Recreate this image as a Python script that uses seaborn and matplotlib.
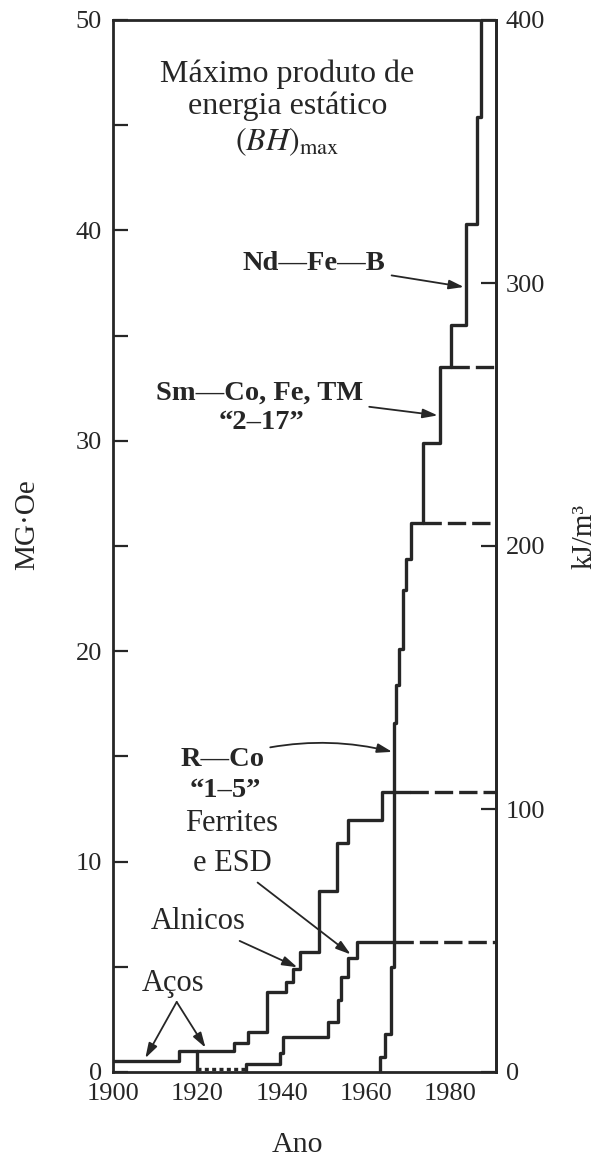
import matplotlib
matplotlib.use("Agg")
import matplotlib.pyplot as plt
import seaborn as sns

# Record (BH)max, in MG·Oe, of the permanent-magnet families by year.
# Each list pair is a staircase: the value holds from its year until the next one.
steel_alnico_year = [1900, 1915.6, 1928.7, 1931.9, 1936.4, 1941.1, 1942.7,
                     1944.3, 1948.9, 1953.2, 1955.7, 1963.7, 1970.3]
steel_alnico_bh = [0.5, 1.0, 1.4, 1.9, 3.8, 4.3, 4.9, 5.7, 8.6, 10.9, 12.0,
                   13.3, 13.3]

ferrite_year = [1931.5, 1931.5, 1939.6, 1940.4, 1951.0, 1953.3, 1954.1,
                1955.7, 1957.8, 1966.9]
ferrite_bh = [0.0, 0.4, 0.9, 1.65, 2.4, 3.4, 4.5, 5.4, 6.2, 6.2]

# early ferrite/ESD trace: riser at 1920 and the dotted baseline after it
ferrite_early_year = [1920.0, 1920.0]
ferrite_early_bh = [1.0, 0.0]
ferrite_base_year = [1920.0, 1931.5]
ferrite_base_bh = [0.12, 0.12]

# rare-earth magnets: R–Co "1–5", Sm–Co "2–17", then Nd–Fe–B
rare_earth_year = [1963.4, 1963.4, 1964.6, 1965.8, 1966.7, 1967.2, 1967.7,
                   1968.7, 1969.4, 1970.7, 1973.5, 1977.6, 1980.2, 1983.7,
                   1986.3, 1987.2]
rare_earth_bh = [0.0, 0.7, 1.8, 5.0, 16.6, 18.4, 20.1, 22.9, 24.4, 26.1,
                 29.9, 33.5, 35.5, 40.3, 45.4, 52.0]

# plateaus carried forward (dashed) to the end of the time axis
plateau_start = [1970.3, 1966.9, 1973.5, 1980.2]
plateau_bh = [13.3, 6.2, 26.1, 33.5]

year_ticks = [1900, 1920, 1940, 1960, 1980]
mgoe_ticks = [0, 10, 20, 30, 40, 50]
mgoe_minor = [5, 15, 25, 35, 45]
kj_ticks = [0, 100, 200, 300, 400]
YEAR_END = 1990.8

sns.set_theme(style="white")
plt.rcParams["font.family"] = ["Liberation Serif", "DejaVu Serif"]
plt.rcParams["mathtext.fontset"] = "stix"

INK = "#262626"
LW = 2.4

fig = plt.figure(figsize=(6.03, 11.58), dpi=100)
ax = fig.add_axes([113 / 603, 86 / 1158, 383 / 603, 1052 / 1158])


def stairs(x, y, **kw):
    sns.lineplot(x=x, y=y, ax=ax, estimator=None, sort=False,
                 drawstyle="steps-post", color=INK, linewidth=LW,
                 legend=False, **kw)


stairs(steel_alnico_year, steel_alnico_bh)
stairs(ferrite_year, ferrite_bh)
stairs(ferrite_early_year, ferrite_early_bh)
stairs(rare_earth_year, rare_earth_bh)
sns.lineplot(x=ferrite_base_year, y=ferrite_base_bh, ax=ax, estimator=None,
             sort=False, color=INK, linewidth=LW, linestyle=(0, (1.2, 1.0)),
             legend=False)
for start, level in zip(plateau_start, plateau_bh):
    sns.lineplot(x=[start, YEAR_END], y=[level, level], ax=ax,
                 estimator=None, sort=False, color=INK, linewidth=LW,
                 linestyle=(0, (5.5, 1.8)), legend=False)

ax.set_xlim(1900, YEAR_END)
ax.set_ylim(0, 50)
ax.set_xticks(year_ticks)
ax.set_yticks(mgoe_ticks)
ax.set_yticks(mgoe_minor, minor=True)
ax.tick_params(axis="both", which="both", direction="in", length=11,
               width=1.6, color=INK, labelcolor=INK, labelsize=19, pad=8)
for side in ["left", "bottom", "top", "right"]:
    ax.spines[side].set_linewidth(2.0)
    ax.spines[side].set_color(INK)

ax2 = ax.twinx()
ax2.set_ylim(0, 400)
ax2.set_yticks(kj_ticks)
ax2.tick_params(axis="y", direction="in", length=11, width=1.6, color=INK,
                labelcolor=INK, labelsize=19, pad=7)
for side in ["left", "bottom", "top"]:
    ax2.spines[side].set_visible(False)
ax2.spines["right"].set_linewidth(2.0)
ax2.spines["right"].set_color(INK)
ax2.grid(False)
ax.grid(False)

ax.set_xlabel("Ano", fontsize=21.5, color=INK)
ax.xaxis.set_label_coords(0.482, -0.0694)
ax.xaxis.label.set_va("center")
ax.set_ylabel("MG·Oe", fontsize=21, color=INK)
ax.yaxis.set_label_coords(-0.2245, 0.52)
ax.yaxis.label.set_va("center")
ax2.set_ylabel("kJ/m³", fontsize=21, color=INK, rotation=90)
ax2.yaxis.set_label_coords(1.2298, 0.5086)
ax2.yaxis.label.set_va("center")

ax.text(1941.3, 45.8, "Máximo produto de\nenergia estático\n$(BH)_{\\rm max}$",
        ha="center", va="center", fontsize=23, color=INK, linespacing=1.15)

arrow = dict(arrowstyle="-|>,head_length=0.45,head_width=0.14", color=INK,
             lw=1.3, shrinkA=2, shrinkB=1, mutation_scale=20)
label_kw = dict(ha="center", va="center", color=INK)

ax.annotate("Nd—Fe—B", xy=(1983.5, 37.3), xytext=(1947.7, 38.45),
            fontsize=20.5, fontweight="bold", arrowprops=arrow, **label_kw)
ax.annotate("Sm—Co, Fe, TM", xy=(1977.3, 31.2), xytext=(1934.75, 32.27),
            fontsize=20.5, fontweight="bold", arrowprops=arrow, **label_kw)
ax.text(1935.3, 30.85, "“2–17”", fontsize=20.5, fontweight="bold", **label_kw)
ax.annotate("R—Co", xy=(1966.5, 15.2), xytext=(1925.9, 14.83),
            fontsize=20.5, fontweight="bold",
            arrowprops=dict(arrow, connectionstyle="arc3,rad=-0.15"),
            **label_kw)
ax.text(1926.6, 13.4, "“1–5”", fontsize=20.5, fontweight="bold", **label_kw)
ax.text(1928.2, 11.83, "Ferrites", fontsize=22, **label_kw)
ax.annotate("e ESD", xy=(1956.6, 5.55), xytext=(1928.3, 9.93),
            fontsize=22, arrowprops=arrow, **label_kw)
ax.annotate("Alnicos", xy=(1944.0, 4.95), xytext=(1920.2, 7.13),
            fontsize=22, arrowprops=arrow, **label_kw)
ax.text(1914.3, 4.23, "Aços", fontsize=22, **label_kw)
for tip in [(1907.5, 0.6), (1922.1, 1.1)]:
    ax.annotate("", xy=tip, xytext=(1915.1, 3.33),
                arrowprops=dict(arrow, shrinkA=0))

fig.savefig("out.png", dpi=100)
